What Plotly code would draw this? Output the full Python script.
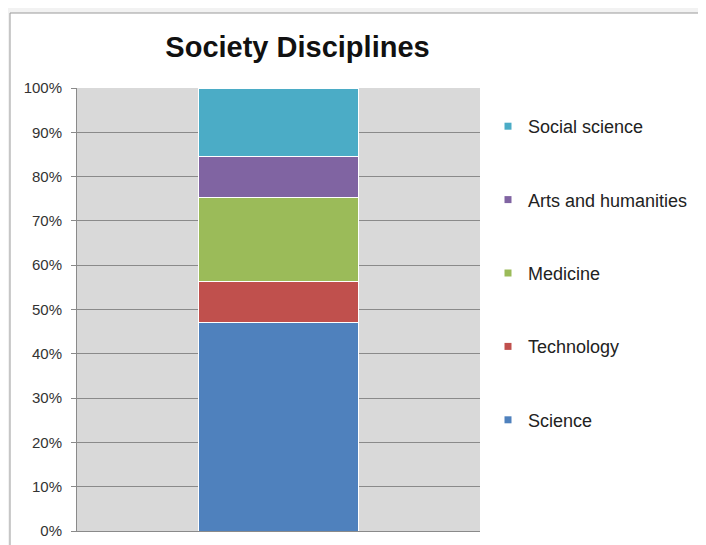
import plotly.graph_objects as go

# stacked share of each discipline (bottom to top), in percent
disciplines = ["Science", "Technology", "Medicine", "Arts and humanities", "Social science"]
shares = [47.0, 9.4, 18.8, 9.4, 15.4]
colors = ["#4F81BD", "#C0504D", "#9BBB59", "#8064A2", "#4BACC6"]
category = [""]
y_ticks = list(range(0, 101, 10))
y_labels = [f"{v}%" for v in y_ticks]

# page is shown with an 8px body margin, so positions are shifted by OFF
OFF = 8
W, H = 706, 545
L, R, T, B = 77 - OFF, 226 + OFF, 88 - OFF, 14 + OFF
pw, ph = W - L - R, H - T - B


def px_x(p):
    return (p - OFF - L) / pw


def px_y(p):
    return (H - B - (p - OFF)) / ph


fig = go.Figure()
for name, val, col in zip(disciplines, shares, colors):
    fig.add_trace(go.Bar(x=category, y=[val], name=name, marker=dict(color=col, line=dict(color="white", width=1)),
                         showlegend=False, legendgroup=name))
# small square legend markers, top of stack first
for name, col in zip(disciplines[::-1], colors[::-1]):
    fig.add_trace(go.Scatter(x=[None], y=[None], mode="markers", name=name, legendgroup=name,
                             marker=dict(symbol="square", size=7, color=col)))

# chart frame and grey plot area
fig.add_shape(type="rect", xref="paper", yref="paper", layer="below",
              x0=px_x(10), x1=px_x(W + 30), y0=px_y(H + 30), y1=px_y(13),
              fillcolor="white", line=dict(color="#9a9a9a", width=1))
fig.add_shape(type="rect", xref="paper", yref="paper", layer="below",
              x0=0, x1=1, y0=0, y1=1, fillcolor="#d9d9d9", line=dict(width=0))

fig.update_layout(
    width=W, height=H,
    margin=dict(l=L, r=R, t=T, b=B),
    barmode="stack", bargap=0.605,
    paper_bgcolor="#f2f2f2", plot_bgcolor="rgba(0,0,0,0)",
    font=dict(family="Liberation Sans, Arial, sans-serif", color="#222"),
    title=dict(text="<b>Society Disciplines</b>", x=(297.5 - OFF) / W, xref="container", xanchor="center",
               y=1 - (47 - OFF) / H, yref="container", yanchor="middle", font=dict(size=29, color="#111")),
    legend=dict(x=px_x(488), y=px_y(108), xanchor="left", yanchor="top", traceorder="grouped",
                tracegroupgap=47, itemwidth=30, font=dict(size=18, color="#222"), bgcolor="rgba(0,0,0,0)"),
)
fig.update_yaxes(range=[0, 100], tickvals=y_ticks, ticktext=y_labels, showgrid=True, gridcolor="#8a8a8a",
                 gridwidth=1, ticks="outside", ticklen=5, tickcolor="#8a8a8a", showline=True, linecolor="#8a8a8a",
                 tickfont=dict(size=15, color="#333"), ticklabelstandoff=6, zeroline=False)
fig.update_xaxes(showticklabels=False, showgrid=False, showline=True, linecolor="#8a8a8a", zeroline=False)

fig.write_html("out.html")
